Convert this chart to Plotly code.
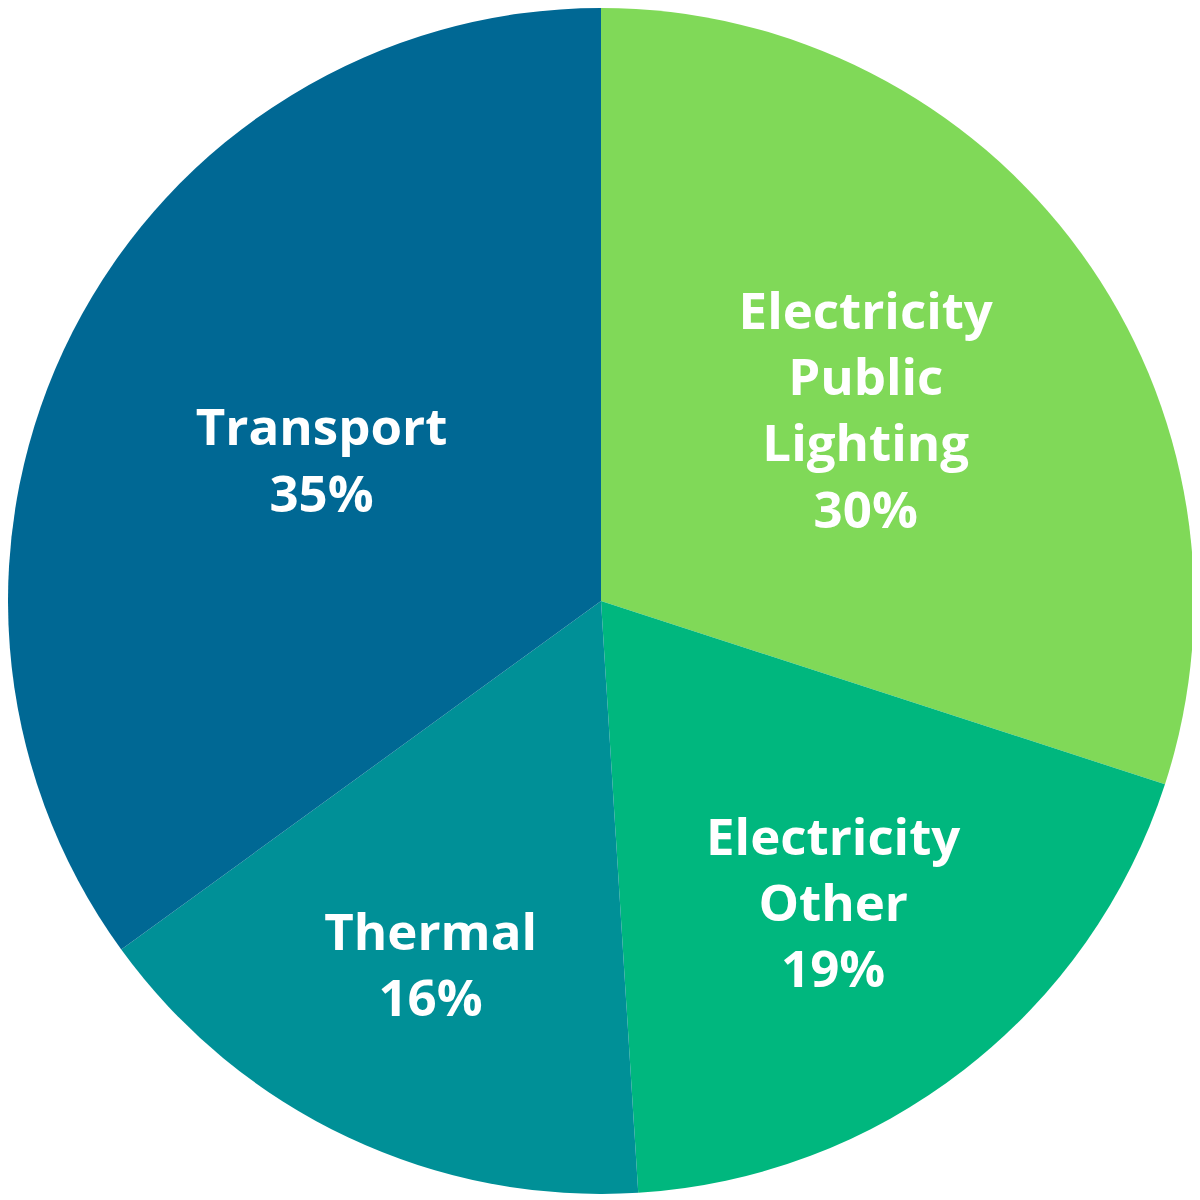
import plotly.graph_objects as go

# Energy use share by sector
labels = ["Electricity<br>Public<br>Lighting", "Electricity<br>Other", "Thermal", "Transport"]
shares = [30, 19, 16, 35]
colors = ["#80D958", "#00B77E", "#009097", "#006894"]

fig = go.Figure(go.Pie(
    labels=labels,
    values=shares,
    sort=False,
    direction="clockwise",
    rotation=0,
    marker=dict(colors=colors, line=dict(width=0)),
    texttemplate="%{label}<br>%{percent:.0%}",
    textposition="inside",
    insidetextorientation="horizontal",
    textfont=dict(family="Open Sans", size=51, color="white", weight="bold"),
    hoverinfo="label+percent",
    domain=dict(x=[0, 1], y=[0, 1]),
    showlegend=False,
))

# page has an 8px body margin, so size the figure to keep the pie centred
fig.update_layout(
    width=1186,
    height=1186,
    margin=dict(l=0, r=0, t=0, b=0),
    paper_bgcolor="white",
    uniformtext=dict(minsize=51, mode="show"),
)

fig.write_html("out.html")
